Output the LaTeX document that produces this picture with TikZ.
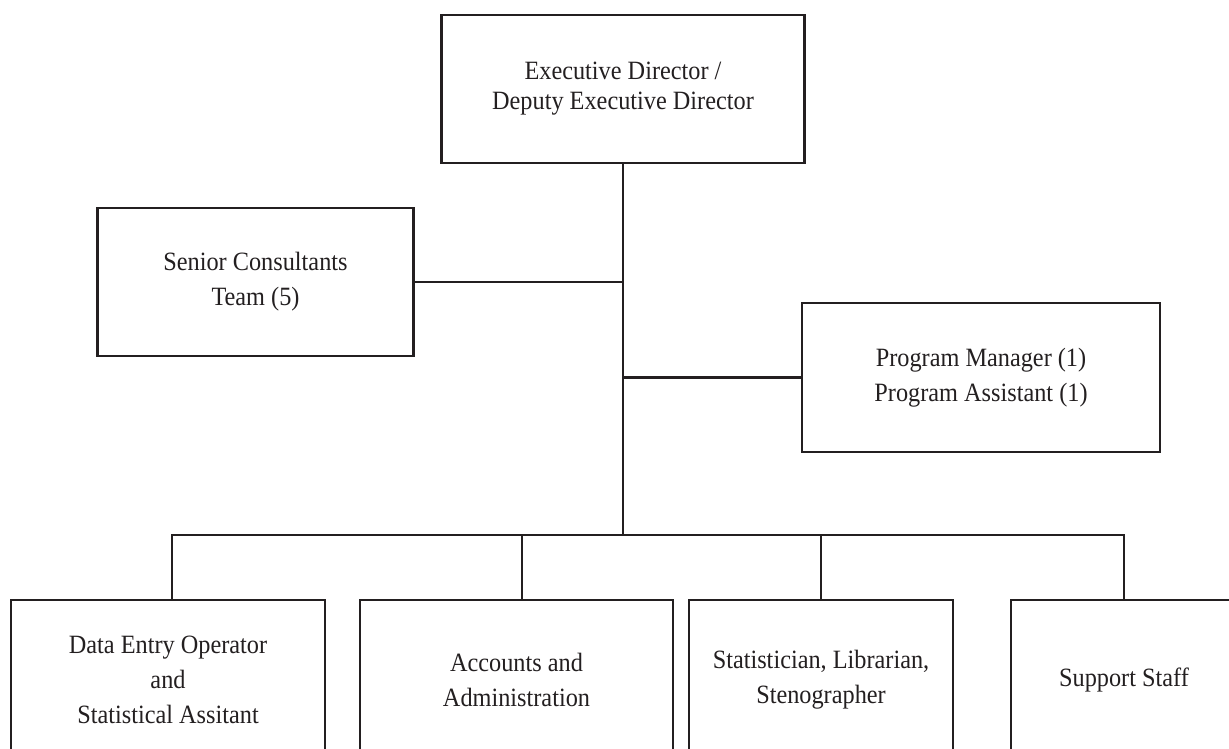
\documentclass[tikz,border=0pt]{standalone}
\usepackage{fontspec}
\setmainfont{Liberation Serif}[FakeStretch=0.92]
\definecolor{ink}{HTML}{231F20}
\begin{document}
\begin{tikzpicture}[x=1pt,y=-1pt,
  box/.style={draw=ink, line width=2.7pt, inner sep=0pt, align=center, text=ink,
    font=\fontsize{26.4pt}{35pt}\selectfont},
  link/.style={draw=ink, line width=2.7pt, line cap=rect}]
\useasboundingbox (0,0) rectangle (1229,749);
\clip (0,0) rectangle (1229,749);
\fill[white] (0,0) rectangle (1229,749);

\node[box, minimum width=363pt, minimum height=148pt,
  font=\fontsize{26.4pt}{30pt}\selectfont] (ed) at (623,89)
  {Executive Director /\\Deputy Executive Director};
\node[box, minimum width=316pt, minimum height=148pt] (sc) at (255.5,282)
  {Senior Consultants\\Team (5)};
\node[box, minimum width=358pt, minimum height=149pt] (pm) at (981,377.5)
  {Program Manager (1)\\Program Assistant (1)};

\node[box, minimum width=314pt, minimum height=160pt] (b1) at (168,680)
  {Data Entry Operator\\and\\Statistical Assitant};
\node[box, minimum width=313pt, minimum height=160pt] (b2) at (516.5,680)
  {Accounts and\\Administration};
\node[box, minimum width=264pt, minimum height=160pt] (b3) at (821,680)
  {Statistician, Librarian,\\Stenographer};
\node[box, minimum width=226pt, minimum height=160pt] (b4) at (1124,680)
  {Support Staff};

\coordinate (bus) at (623,535);
\coordinate (d1) at ([xshift=4pt]b1.north);
\coordinate (d2) at ([xshift=5.5pt]b2.north);
\draw[link] (ed.south) -- (bus);
\draw[link] (sc.east) -- (sc.east -| bus);
\draw[link] (pm.west) -- (pm.west -| bus);
\draw[link] (d1 |- bus) -- (b4.north |- bus);
\draw[link] (d1) -- (d1 |- bus);
\draw[link] (d2) -- (d2 |- bus);
\draw[link] (b3.north) -- (b3.north |- bus);
\draw[link] (b4.north) -- (b4.north |- bus);
\end{tikzpicture}
\end{document}
